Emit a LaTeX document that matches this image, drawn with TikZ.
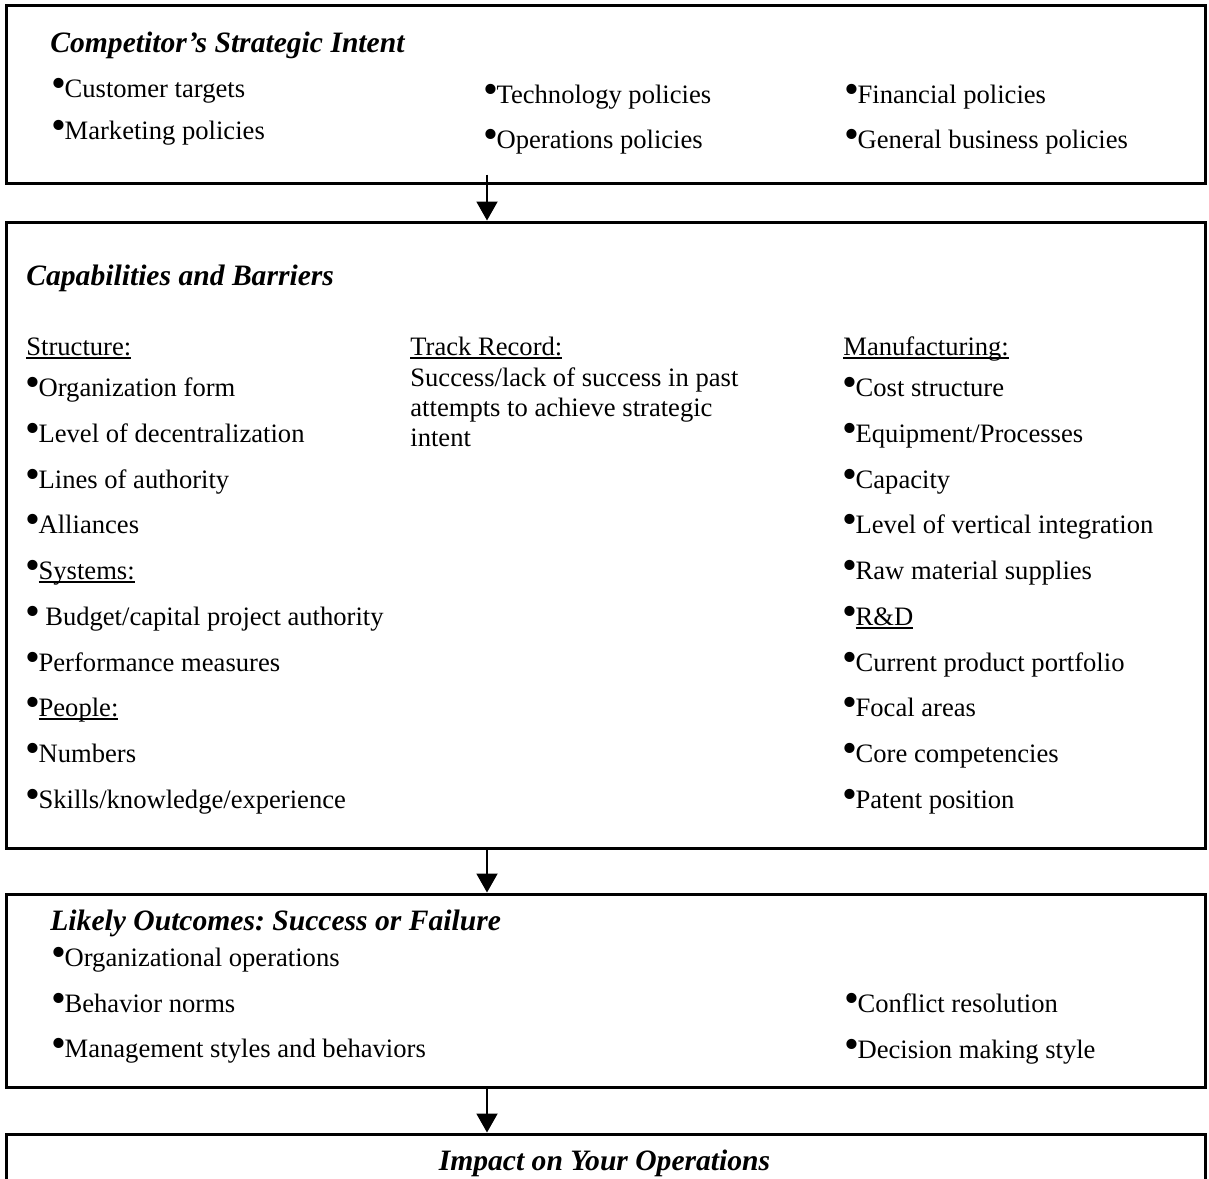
\documentclass[tikz,border=0pt]{standalone}
\usepackage{fontspec}
\setmainfont{Liberation Serif}
\usetikzlibrary{positioning,arrows.meta,fit}

\newsavebox{\ulbox}
\newcommand{\bul}{\makebox[0.46em][l]{\kern-0.04em\scalebox{1.6}{\textbullet}}}
\newcommand{\undl}[1]{\sbox{\ulbox}{#1}\rlap{\rule[-0.14em]{\wd\ulbox}{0.07em}}\usebox{\ulbox}}
\frenchspacing

\tikzset{
  box/.style={draw, line width=1.5pt, inner sep=0pt},
  txt/.style={anchor=base west, inner sep=0pt, font=\fontsize{13.3}{15}\selectfont},
  ttl/.style={anchor=base west, inner sep=0pt, font=\fontsize{14.8}{17}\selectfont\bfseries\itshape},
  arr/.style={line width=1pt, -{Triangle[width=10.5pt,length=9.5pt]}}
}

\begin{document}
\begin{tikzpicture}[x=0.5pt,y=-0.5pt]
  \useasboundingbox (0,0) rectangle (1209,1178);
  \clip (0,0) rectangle (1209,1178);

  %boxes
  \node[box, fit={(6,5) (1205,183)}] (intent) {};
  \node[box, fit={(6,222) (1205,848)}] (capab) {};
  \node[box, fit={(6,894) (1205,1087)}] (outcome) {};
  \node[box, fit={(6,1134) (1205,1240)}] (impact) {};

  %arrows
  \coordinate (ax) at (487,0);
  \draw[arr] (intent.south -| ax) ++(0,-10) -- (capab.north -| ax);
  \draw[arr] (capab.south -| ax) -- (outcome.north -| ax);
  \draw[arr] (outcome.south -| ax) -- (impact.north -| ax);

  %strategic intent
  \node[ttl] (t1) at (50,52) {Competitor’s Strategic Intent};
  \node[txt] (i1) at (52,97) {\bul Customer targets};
  \node[txt] (i2) at (52,139) {\bul Marketing policies};
  \node[txt] (i3) at (484,103) {\bul Technology policies};
  \node[txt] (i4) at (484,148) {\bul Operations policies};
  \node[txt] (i5) at (845,103) {\bul Financial policies};
  \node[txt] (i6) at (845,148) {\bul General business policies};

  %capabilities and barriers
  \node[ttl] (t2) at (26,285) {Capabilities and Barriers};
  \node[txt] (struct) at (26,355) {\undl{Structure:}};
  \node[txt] (s1) at (26,396) {\bul Organization form};
  \node[txt] (s2) at (26,442) {\bul Level of decentralization};
  \node[txt] (s3) at (26,488) {\bul Lines of authority};
  \node[txt] (s4) at (26,533) {\bul Alliances};
  \node[txt] (s5) at (26,579) {\bul\undl{Systems:}};
  \node[txt] (s6) at (26,625) {\bul\ Budget/capital project authority};
  \node[txt] (s7) at (26,671) {\bul Performance measures};
  \node[txt] (s8) at (26,716) {\bul\undl{People:}};
  \node[txt] (s9) at (26,762) {\bul Numbers};
  \node[txt] (s10) at (26,808) {\bul Skills/knowledge/experience};

  \node[txt] (track) at (410,355) {\undl{Track Record:}};
  \node[txt] (tr1) at (410,386) {Success/lack of success in past};
  \node[txt] (tr2) at (410,416) {attempts to achieve strategic};
  \node[txt] (tr3) at (410,446) {intent};

  \node[txt] (manuf) at (843,355) {\undl{Manufacturing:}};
  \node[txt] (m1) at (843,396) {\bul Cost structure};
  \node[txt] (m2) at (843,442) {\bul Equipment/Processes};
  \node[txt] (m3) at (843,488) {\bul Capacity};
  \node[txt] (m4) at (843,533) {\bul Level of vertical integration};
  \node[txt] (m5) at (843,579) {\bul Raw material supplies};
  \node[txt] (m6) at (843,625) {\bul\undl{R\&D}};
  \node[txt] (m7) at (843,671) {\bul Current product portfolio};
  \node[txt] (m8) at (843,716) {\bul Focal areas};
  \node[txt] (m9) at (843,762) {\bul Core competencies};
  \node[txt] (m10) at (843,808) {\bul Patent position};

  %likely outcomes
  \node[ttl] (t3) at (50,930) {Likely Outcomes: Success or Failure};
  \node[txt] (o1) at (52,966) {\bul Organizational operations};
  \node[txt] (o2) at (52,1012) {\bul Behavior norms};
  \node[txt] (o3) at (52,1057) {\bul Management styles and behaviors};
  \node[txt] (o4) at (845,1012) {\bul Conflict resolution};
  \node[txt] (o5) at (845,1058) {\bul Decision making style};

  %impact
  \node[ttl, anchor=base] (t4) at (604.5,1170) {Impact on Your Operations};
\end{tikzpicture}
\end{document}
